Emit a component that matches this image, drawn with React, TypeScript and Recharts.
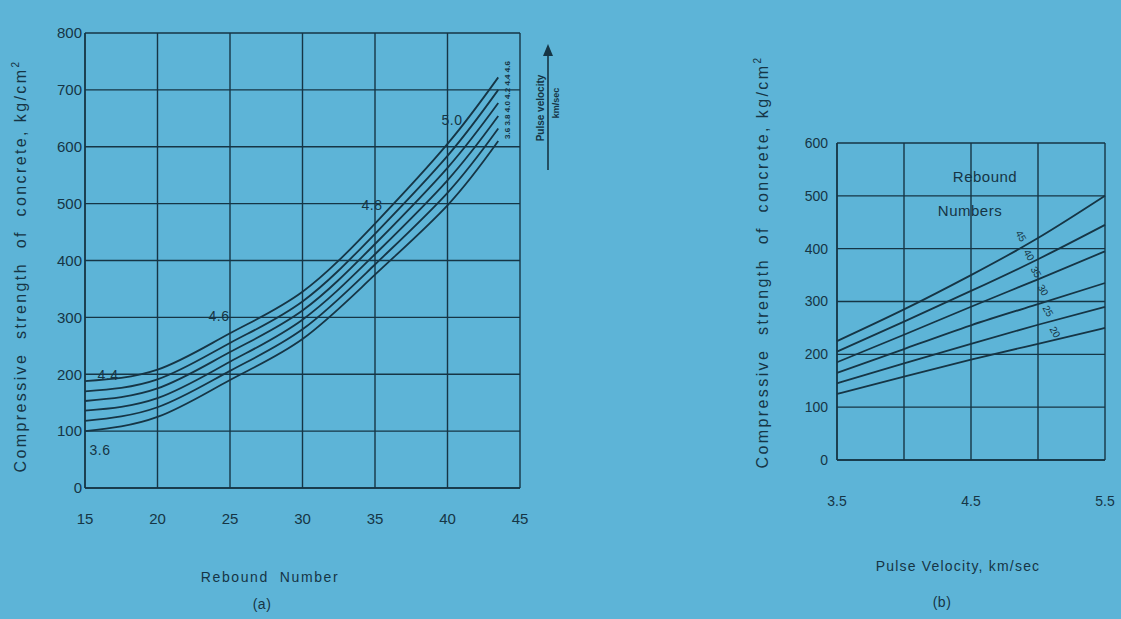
import React from 'react';
import {
  LineChart,
  Line,
  XAxis,
  YAxis,
  CartesianGrid,
} from 'recharts';

// (a) strength vs rebound number, one curve per pulse velocity
const reboundX = [15, 20, 25, 30, 35, 40, 43.5];
const pv36 = [100, 125, 190, 262, 375, 497, 610];
const pv38 = [118, 142, 206, 279, 393, 519, 632];
const pv40 = [136, 158, 222, 296, 411, 541, 654];
const pv42 = [153, 175, 239, 312, 429, 563, 677];
const pv44 = [170, 191, 255, 328, 447, 584, 700];
const pv46 = [188, 208, 272, 345, 465, 605, 722];
const reboundTicks = [15, 20, 25, 30, 35, 40, 45];
const strengthTicksA = [0, 100, 200, 300, 400, 500, 600, 700, 800];

// (b) strength vs pulse velocity, one curve per rebound number
const velocityX = [3.5, 4.0, 4.5, 5.0, 5.5];
const rn45 = [225, 285, 350, 420, 500];
const rn40 = [205, 262, 320, 380, 445];
const rn35 = [185, 237, 290, 342, 395];
const rn30 = [165, 210, 255, 295, 335];
const rn25 = [145, 183, 220, 256, 290];
const rn20 = [125, 158, 190, 220, 250];
const velocityTicks = [3.5, 4.0, 4.5, 5.0, 5.5];
const velocityLabels = ['3.5', '', '4.5', '', '5.5'];
const strengthTicksB = [0, 100, 200, 300, 400, 500, 600];

const seriesA = [pv36, pv38, pv40, pv42, pv44, pv46];
const seriesB = [rn45, rn40, rn35, rn30, rn25, rn20];

const dataA = reboundX.map((x, i) => {
  const row: Record<string, number> = { x };
  seriesA.forEach((s, k) => (row['c' + k] = s[i]));
  return row;
});

const dataB = velocityX.map((x, i) => {
  const row: Record<string, number> = { x };
  seriesB.forEach((s, k) => (row['c' + k] = s[i]));
  return row;
});

const INK = '#163545';
const BG = '#5db4d7';
const FONT = '"Liberation Sans", Arial, sans-serif';

const tickStyle = { fill: INK, fontSize: 15, fontFamily: FONT };

export default function App() {
  return (
    <div style={styles.page}>
      {/* chart (a) */}
      <div style={{ position: 'absolute', left: 0, top: 0 }}>
        <LineChart
          width={560}
          height={540}
          data={dataA}
          margin={{ top: 33, right: 40, left: 45, bottom: 22 }}
        >
          <CartesianGrid stroke={INK} strokeWidth={1.4} />
          <XAxis
            dataKey="x"
            type="number"
            domain={[15, 45]}
            ticks={reboundTicks}
            height={30}
            tickSize={0}
            tickMargin={25}
            tickLine={false}
            axisLine={{ stroke: INK, strokeWidth: 1.4 }}
            tick={tickStyle}
          />
          <YAxis
            type="number"
            domain={[0, 800]}
            ticks={strengthTicksA}
            width={40}
            tickSize={0}
            tickMargin={3}
            tickLine={false}
            axisLine={{ stroke: INK, strokeWidth: 1.4 }}
            tick={tickStyle}
          />
          {seriesA.map((_, k) => (
            <Line
              key={k}
              dataKey={'c' + k}
              type="natural"
              stroke={INK}
              strokeWidth={1.8}
              dot={false}
              isAnimationActive={false}
            />
          ))}
        </LineChart>
      </div>

      {/* chart (b) */}
      <div style={{ position: 'absolute', left: 760, top: 100 }}>
        <LineChart
          width={380}
          height={420}
          data={dataB}
          margin={{ top: 43, right: 35, left: 37, bottom: 30 }}
        >
          <CartesianGrid stroke={INK} strokeWidth={1.4} />
          <XAxis
            dataKey="x"
            type="number"
            domain={[3.5, 5.5]}
            ticks={velocityTicks}
            tickFormatter={(v: number) => velocityLabels[velocityTicks.indexOf(v)] ?? ''}
            height={30}
            tickSize={0}
            tickMargin={36}
            tickLine={false}
            axisLine={{ stroke: INK, strokeWidth: 1.4 }}
            tick={{ ...tickStyle, fontSize: 14 }}
          />
          <YAxis
            type="number"
            domain={[0, 600]}
            ticks={strengthTicksB}
            width={40}
            tickSize={0}
            tickMargin={9}
            tickLine={false}
            axisLine={{ stroke: INK, strokeWidth: 1.4 }}
            tick={{ ...tickStyle, fontSize: 14 }}
          />
          {seriesB.map((_, k) => (
            <Line
              key={k}
              dataKey={'c' + k}
              type="natural"
              stroke={INK}
              strokeWidth={1.8}
              dot={false}
              isAnimationActive={false}
            />
          ))}
        </LineChart>
      </div>

      {/* axis titles */}
      <div style={{ ...styles.vTitle, left: 20, top: 266 }}>
        Compressive&nbsp; strength&nbsp; of&nbsp; concrete, kg/cm<sup style={styles.sup}>2</sup>
      </div>
      <div style={{ ...styles.vTitle, left: 762, top: 262 }}>
        Compressive&nbsp; strength&nbsp; of&nbsp; concrete, kg/cm<sup style={styles.sup}>2</sup>
      </div>
      <div style={{ ...styles.text, left: 270, top: 577, letterSpacing: '1.6px' }}>Rebound&nbsp; Number</div>
      <div style={{ ...styles.text, left: 262, top: 604 }}>(a)</div>
      <div style={{ ...styles.text, left: 958, top: 566, letterSpacing: '1.2px' }}>Pulse Velocity, km/sec</div>
      <div style={{ ...styles.text, left: 942, top: 602 }}>(b)</div>

      {/* curve labels, chart (a) */}
      <div style={{ ...styles.text, left: 108, top: 375 }}>4.4</div>
      <div style={{ ...styles.text, left: 100, top: 450 }}>3.6</div>
      <div style={{ ...styles.text, left: 219, top: 316 }}>4.6</div>
      <div style={{ ...styles.text, left: 372, top: 205 }}>4.8</div>
      <div style={{ ...styles.text, left: 452, top: 120 }}>5.0</div>
      <div style={{ ...styles.vSmall, left: 507, top: 100 }}>3.6 3.8 4.0 4.2 4.4 4.6</div>
      <div style={{ ...styles.vSmall, left: 540, top: 108, fontSize: 10 }}>Pulse velocity</div>
      <div style={{ ...styles.vSmall, left: 556, top: 103, fontSize: 9 }}>km/sec</div>
      <svg style={{ position: 'absolute', left: 540, top: 42 }} width={16} height={130}>
        <line x1={8} y1={128} x2={8} y2={10} stroke={INK} strokeWidth={1.6} />
        <polygon points="8,2 3,14 13,14" fill={INK} />
      </svg>

      {/* curve labels, chart (b) */}
      <div style={{ ...styles.text, left: 985, top: 176, fontSize: 15 }}>Rebound</div>
      <div style={{ ...styles.text, left: 970, top: 210, fontSize: 15 }}>Numbers</div>
      <div style={{ ...styles.small, left: 1021, top: 236 }}>45</div>
      <div style={{ ...styles.small, left: 1029, top: 255 }}>40</div>
      <div style={{ ...styles.small, left: 1036, top: 272 }}>35</div>
      <div style={{ ...styles.small, left: 1043, top: 290 }}>30</div>
      <div style={{ ...styles.small, left: 1048, top: 311 }}>25</div>
      <div style={{ ...styles.small, left: 1055, top: 332 }}>20</div>
    </div>
  );
}

const styles: Record<string, React.CSSProperties> = {
  page: {
    position: 'absolute',
    left: 0,
    top: 0,
    width: 1121,
    height: 619,
    backgroundColor: BG,
    overflow: 'hidden',
    fontFamily: FONT,
    color: INK,
  },

  text: {
    position: 'absolute',
    transform: 'translate(-50%, -50%)',
    fontSize: 14,
    letterSpacing: '0.5px',
    whiteSpace: 'nowrap',
  },

  small: {
    position: 'absolute',
    transform: 'translate(-50%, -50%) rotate(60deg)',
    fontSize: 10,
    whiteSpace: 'nowrap',
  },

  vTitle: {
    position: 'absolute',
    transform: 'translate(-50%, -50%) rotate(-90deg)',
    fontSize: 16,
    letterSpacing: '2.4px',
    whiteSpace: 'nowrap',
  },

  vSmall: {
    position: 'absolute',
    transform: 'translate(-50%, -50%) rotate(-90deg)',
    fontSize: 8,
    fontWeight: 'bold',
    whiteSpace: 'nowrap',
  },

  sup: {
    fontSize: 10,
  },
};
